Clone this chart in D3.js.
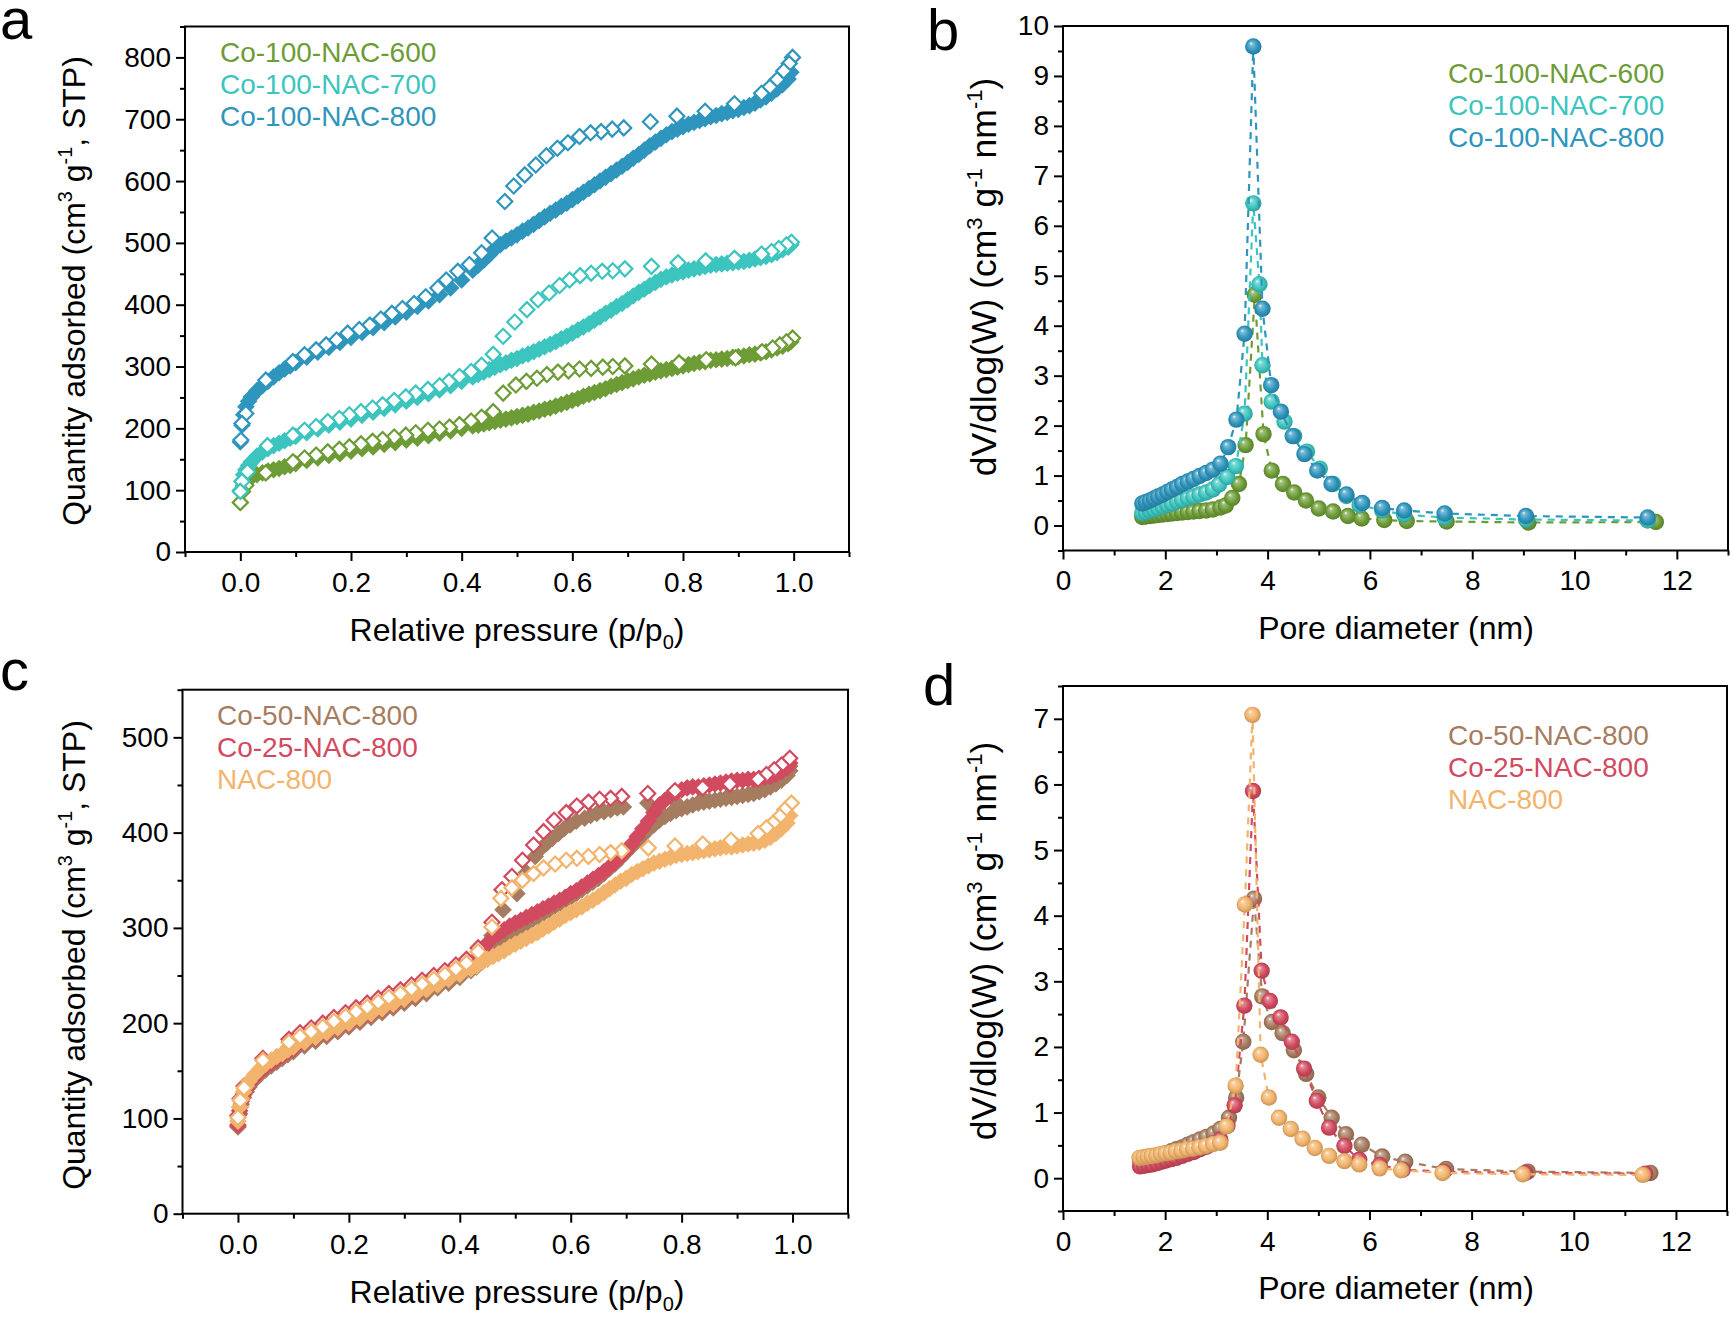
<!DOCTYPE html>
<html>
<head>
<meta charset="utf-8">
<script src="https://cdn.jsdelivr.net/npm/d3@7.9.0/dist/d3.min.js"></script>
<style>
  body { margin: 0; background: #fff; }
  text { font-family: "Liberation Sans", Arial, Helvetica, sans-serif; }
</style>
</head>
<body>
<svg id="fig" width="1730" height="1320"></svg>
<script>
// ---------- data ----------
// relative pressure grid shared by the adsorption branches (panels a and c)
const adsPressure = [0, 0.003, 0.006, 0.01, 0.015, 0.02, 0.03, 0.04, 0.05, 0.06, 0.07, 0.08, 0.09,
  0.10, 0.12, 0.14, 0.16, 0.18, 0.20, 0.22, 0.24, 0.26, 0.28, 0.30, 0.32, 0.34, 0.36, 0.38, 0.40, 0.42,
  0.43, 0.44, 0.45, 0.46, 0.47, 0.48, 0.49, 0.50, 0.51, 0.52,
  0.53, 0.54, 0.55, 0.56, 0.57, 0.58, 0.59, 0.60, 0.61, 0.62,
  0.63, 0.64, 0.65, 0.66, 0.67, 0.68, 0.69, 0.70, 0.71, 0.72,
  0.73, 0.74, 0.75, 0.76, 0.77, 0.78, 0.79, 0.80, 0.81, 0.82,
  0.83, 0.84, 0.85, 0.86, 0.87, 0.88, 0.89, 0.90, 0.91, 0.92,
  0.93, 0.94, 0.95, 0.96, 0.97, 0.98, 0.99, 0.995];

// panel a, adsorption (filled diamonds)
const ads600 = [80, 98, 108, 114, 118, 121, 125, 128, 131, 133, 135, 138, 140,
  143, 148, 152, 156, 159, 163, 167, 170, 174, 177, 181, 184, 188, 192, 196, 200, 204,
  205, 207, 209, 211, 213, 215, 217, 219, 221, 223,
  226, 228, 231, 233, 236, 239, 242, 245, 248, 252,
  255, 258, 261, 264, 268, 271, 274, 277, 280, 283,
  286, 288, 291, 293, 295, 297, 299, 301, 303, 305,
  307, 308, 310, 311, 312, 313, 315, 316, 317, 319,
  320, 322, 324, 327, 330, 333, 337, 340];
const ads700 = [100, 115, 125, 133, 140, 146, 155, 162, 167, 172, 176, 180, 184,
  187, 193, 199, 205, 210, 215, 221, 226, 232, 238, 244, 250, 256, 262, 269, 276, 283,
  287, 291, 295, 299, 303, 306, 310, 313, 317, 320,
  324, 328, 332, 336, 340, 345, 349, 354, 359, 364,
  369, 375, 380, 386, 391, 397, 402, 408, 414, 420,
  425, 431, 436, 441, 445, 448, 451, 453, 456, 458,
  460, 462, 464, 465, 466, 467, 468, 469, 470, 472,
  474, 476, 478, 481, 484, 489, 493, 497];
const ads800 = [178, 205, 222, 235, 244, 251, 261, 269, 276, 283, 290, 296, 301,
  306, 315, 323, 331, 339, 347, 355, 363, 371, 380, 388, 397, 406, 416, 427, 440, 456,
  464, 472, 481, 490, 497, 503, 508, 513, 519, 524,
  530, 536, 542, 548, 553, 559, 564, 570, 576, 582,
  588, 594, 600, 606, 612, 618, 624, 630, 637, 643,
  650, 657, 663, 669, 675, 680, 684, 688, 692, 695,
  698, 701, 704, 706, 709, 711, 714, 716, 719, 722,
  726, 731, 736, 742, 749, 756, 765, 776];

// panel a, desorption (open diamonds) [p/p0, quantity]
const des600 = [[0.998, 346], [0.987, 340], [0.975, 335], [0.962, 330], [0.943, 324], [0.895, 314], [0.842, 311],
  [0.793, 306], [0.743, 304], [0.695, 301], [0.673, 300], [0.655, 299], [0.634, 297], [0.613, 296], [0.593, 293],
  [0.574, 291], [0.554, 287], [0.536, 281], [0.517, 276], [0.498, 270], [0.475, 257], [0.457, 227], [0.436, 218],
  [0.417, 212], [0.396, 206], [0.378, 202], [0.36, 199], [0.339, 197], [0.317, 193], [0.299, 189], [0.278, 186],
  [0.257, 182], [0.239, 179], [0.218, 175], [0.197, 170], [0.179, 166], [0.158, 162], [0.137, 157], [0.116, 152],
  [0.095, 146], [0.046, 128], [0.01, 108], [0.004, 98], [0.0, 80]];
const des700 = [[0.996, 501], [0.987, 497], [0.973, 491], [0.96, 486], [0.942, 482], [0.893, 475], [0.841, 471],
  [0.791, 468], [0.743, 462], [0.695, 458], [0.673, 455], [0.654, 454], [0.634, 451], [0.614, 447], [0.595, 440],
  [0.577, 431], [0.558, 419], [0.538, 408], [0.518, 392], [0.496, 372], [0.475, 349], [0.457, 320], [0.436, 302],
  [0.417, 292], [0.396, 284], [0.377, 276], [0.36, 269], [0.339, 263], [0.317, 257], [0.299, 251], [0.278, 245],
  [0.257, 238], [0.239, 233], [0.218, 227], [0.197, 222], [0.179, 216], [0.158, 211], [0.137, 203], [0.116, 197],
  [0.095, 189], [0.049, 172], [0.013, 130], [0.003, 114], [0.0, 98]];
const des800 = [[0.998, 800], [0.992, 790], [0.982, 778], [0.97, 764], [0.957, 752], [0.942, 742], [0.893, 725],
  [0.84, 713], [0.789, 705], [0.741, 696], [0.693, 686], [0.672, 684], [0.652, 680], [0.633, 678], [0.613, 672],
  [0.592, 662], [0.573, 653], [0.553, 641], [0.534, 626], [0.514, 610], [0.494, 592], [0.478, 567], [0.455, 508],
  [0.436, 484], [0.414, 465], [0.393, 454], [0.372, 440], [0.357, 427], [0.335, 413], [0.314, 402], [0.293, 394],
  [0.274, 386], [0.254, 377], [0.234, 367], [0.215, 360], [0.194, 354], [0.174, 343], [0.155, 335], [0.137, 327],
  [0.116, 319], [0.095, 308], [0.046, 278], [0.01, 224], [0.003, 208], [0.001, 181]];

// panel c, adsorption
const adsCo50 = [91, 105, 115, 122, 128, 133, 140, 146, 151, 155, 159, 163, 167,
  170, 176, 181, 186, 191, 196, 201, 206, 211, 216, 221, 226, 231, 237, 242, 248, 255,
  259, 264, 272, 280, 284, 287, 292, 296, 300, 304,
  308, 311, 315, 318, 322, 325, 329, 332, 336, 340,
  344, 348, 352, 357, 362, 367, 373, 379, 385, 391,
  397, 403, 408, 413, 417, 420, 423, 425, 427, 429,
  431, 432, 433, 434, 435, 436, 437, 438, 439, 440,
  441, 443, 445, 448, 451, 455, 460, 465];
const adsCo25 = [93, 108, 118, 125, 131, 136, 143, 149, 154, 158, 162, 166, 170,
  173, 179, 184, 189, 194, 199, 204, 209, 214, 219, 224, 229, 235, 240, 246, 253, 262,
  268, 276, 284, 290, 294, 298, 302, 305, 308, 311,
  314, 317, 320, 323, 326, 329, 332, 336, 339, 343,
  347, 351, 355, 359, 364, 369, 375, 381, 388, 396,
  404, 412, 421, 429, 434, 439, 442, 445, 447, 448,
  448, 449, 450, 451, 452, 453, 454, 455, 455, 456,
  456, 457, 458, 459, 461, 464, 468, 473];
const adsNac = [97, 112, 121, 128, 134, 139, 146, 152, 157, 161, 165, 168, 172,
  175, 180, 185, 190, 195, 200, 205, 210, 215, 220, 225, 230, 235, 240, 246, 251, 257,
  260, 264, 267, 270, 273, 276, 280, 283, 286, 289,
  292, 295, 299, 302, 306, 309, 313, 316, 319, 322,
  326, 329, 333, 337, 341, 345, 349, 352, 356, 359,
  362, 365, 368, 370, 372, 374, 376, 377, 378, 379,
  380, 381, 382, 383, 384, 385, 385, 386, 387, 388,
  389, 390, 392, 395, 399, 404, 410, 418];

// panel c, desorption
const desCo50 = [[0.995, 470], [0.98, 462], [0.965, 455], [0.95, 450], [0.938, 447], [0.887, 440], [0.838, 436],
  [0.788, 433], [0.739, 431], [0.695, 427], [0.684, 426], [0.672, 424], [0.66, 422], [0.647, 420], [0.636, 418],
  [0.625, 415], [0.61, 412], [0.599, 408], [0.588, 404], [0.578, 399], [0.567, 394], [0.557, 389], [0.546, 383],
  [0.536, 375], [0.52, 358], [0.503, 336], [0.478, 319], [0.458, 292], [0.433, 268], [0.412, 258],
  [0.393, 252], [0.373, 246], [0.353, 241], [0.332, 236], [0.313, 231], [0.293, 226], [0.272, 222], [0.253, 217],
  [0.233, 212], [0.213, 207], [0.194, 202], [0.173, 197], [0.153, 192], [0.132, 187], [0.112, 181], [0.092, 175],
  [0.045, 155], [0.011, 126], [0.004, 112], [0.0, 92]];
const desCo25 = [[0.995, 478], [0.98, 471], [0.967, 466], [0.953, 461], [0.938, 456], [0.887, 451], [0.838, 447],
  [0.788, 444], [0.739, 441], [0.692, 438], [0.672, 436], [0.652, 435], [0.632, 432], [0.611, 428], [0.592, 421],
  [0.57, 413], [0.551, 401], [0.533, 387], [0.513, 371], [0.494, 354], [0.476, 340], [0.458, 306], [0.433, 279],
  [0.412, 267], [0.393, 261], [0.373, 255], [0.353, 250], [0.332, 245], [0.313, 240], [0.293, 235], [0.272, 231],
  [0.253, 226], [0.233, 221], [0.213, 216], [0.194, 211], [0.173, 206], [0.153, 200], [0.132, 195], [0.112, 190],
  [0.092, 183], [0.045, 163], [0.011, 134], [0.004, 121], [0.0, 103]];
const desNac = [[0.998, 431], [0.986, 424], [0.977, 417], [0.965, 410], [0.953, 405], [0.938, 399], [0.889, 392],
  [0.838, 388], [0.788, 386], [0.74, 384], [0.692, 381], [0.672, 379], [0.652, 377], [0.632, 375], [0.611, 373],
  [0.592, 371], [0.572, 367], [0.551, 363], [0.533, 357], [0.513, 350], [0.494, 342], [0.474, 331], [0.458, 301],
  [0.433, 275], [0.412, 263], [0.393, 257], [0.373, 251], [0.353, 246], [0.332, 241], [0.313, 236], [0.293, 231],
  [0.272, 227], [0.253, 222], [0.233, 217], [0.213, 212], [0.194, 207], [0.173, 202], [0.153, 196], [0.132, 191],
  [0.112, 186], [0.092, 180], [0.045, 161], [0.011, 132], [0.004, 119], [0.0, 101]];

// panel b, pore size distribution [pore diameter nm, dV/dlog(W)]
const psd600 = [[1.55, 0.17], [1.62, 0.18], [1.70, 0.19], [1.78, 0.20], [1.86, 0.21], [1.95, 0.22], [2.04, 0.23],
  [2.13, 0.24], [2.23, 0.25], [2.33, 0.26], [2.44, 0.27], [2.55, 0.28], [2.67, 0.29], [2.80, 0.30], [2.93, 0.32],
  [3.08, 0.36], [3.18, 0.40], [3.31, 0.55], [3.44, 0.83], [3.57, 1.61], [3.75, 4.62], [3.92, 1.83], [4.08, 1.10],
  [4.30, 0.83], [4.52, 0.66], [4.75, 0.50], [5.00, 0.34], [5.28, 0.28], [5.57, 0.19], [5.84, 0.14], [6.28, 0.11],
  [6.72, 0.09], [7.50, 0.08], [9.10, 0.06], [11.59, 0.07]];
const psd700 = [[1.55, 0.25], [1.62, 0.27], [1.70, 0.30], [1.78, 0.32], [1.86, 0.35], [1.95, 0.38], [2.04, 0.41],
  [2.13, 0.44], [2.23, 0.48], [2.33, 0.51], [2.44, 0.55], [2.55, 0.58], [2.67, 0.62], [2.80, 0.66], [2.93, 0.72],
  [3.05, 0.82], [3.21, 0.97], [3.38, 1.19], [3.55, 2.24], [3.72, 6.45], [3.84, 4.83], [3.90, 3.21], [4.08, 2.48],
  [4.33, 2.08], [4.52, 1.79], [4.77, 1.48], [5.02, 1.14], [5.28, 0.83], [5.54, 0.59], [5.80, 0.41], [6.24, 0.30],
  [6.67, 0.22], [7.46, 0.16], [9.05, 0.12], [11.43, 0.10]];
const psd800 = [[1.55, 0.44], [1.62, 0.47], [1.70, 0.50], [1.78, 0.54], [1.86, 0.58], [1.95, 0.62], [2.04, 0.67],
  [2.13, 0.72], [2.23, 0.77], [2.33, 0.83], [2.44, 0.88], [2.55, 0.93], [2.67, 0.99], [2.80, 1.05], [2.93, 1.12],
  [3.08, 1.24], [3.23, 1.57], [3.39, 2.12], [3.55, 3.84], [3.72, 9.59], [3.90, 4.34], [4.07, 2.81], [4.26, 2.28],
  [4.49, 1.79], [4.72, 1.43], [4.97, 1.10], [5.25, 0.83], [5.54, 0.62], [5.85, 0.45], [6.24, 0.35], [6.67, 0.30],
  [7.46, 0.24], [9.05, 0.19], [11.43, 0.16]];

// panel d, pore size distribution
const psdCo50 = [[1.51, 0.26], [1.59, 0.27], [1.67, 0.29], [1.75, 0.31], [1.84, 0.33], [1.93, 0.35], [2.02, 0.38],
  [2.12, 0.41], [2.22, 0.44], [2.33, 0.47], [2.44, 0.51], [2.56, 0.55], [2.68, 0.59], [2.81, 0.63], [2.95, 0.68],
  [3.08, 0.75], [3.25, 0.92], [3.39, 1.23], [3.53, 2.08], [3.74, 4.26], [3.90, 2.77], [4.09, 2.38], [4.30, 2.21],
  [4.52, 1.95], [4.76, 1.59], [5.00, 1.23], [5.26, 0.92], [5.54, 0.67], [5.85, 0.51], [6.25, 0.33], [6.70, 0.25],
  [7.50, 0.14], [9.10, 0.10], [11.50, 0.08]];
const psdCo25 = [[1.51, 0.18], [1.59, 0.19], [1.67, 0.20], [1.75, 0.21], [1.84, 0.23], [1.93, 0.25], [2.02, 0.27],
  [2.12, 0.29], [2.22, 0.31], [2.33, 0.34], [2.44, 0.37], [2.56, 0.40], [2.68, 0.44], [2.81, 0.48], [2.95, 0.53],
  [3.08, 0.59], [3.22, 0.80], [3.36, 1.11], [3.55, 2.63], [3.72, 5.90], [3.89, 3.16], [4.05, 2.70], [4.26, 2.45],
  [4.48, 2.08], [4.72, 1.67], [4.97, 1.18], [5.21, 0.77], [5.51, 0.49], [5.80, 0.28], [6.20, 0.20], [6.65, 0.13],
  [7.45, 0.10], [9.05, 0.08], [11.40, 0.07]];
const psdNac = [[1.50, 0.31], [1.58, 0.32], [1.66, 0.33], [1.74, 0.34], [1.83, 0.35], [1.92, 0.37], [2.01, 0.38],
  [2.11, 0.39], [2.21, 0.41], [2.32, 0.42], [2.43, 0.44], [2.55, 0.45], [2.67, 0.47], [2.80, 0.49], [2.94, 0.52],
  [3.08, 0.54], [3.20, 0.79], [3.38, 1.41], [3.56, 4.17], [3.71, 7.06], [3.87, 1.88], [4.03, 1.23], [4.23, 0.92],
  [4.46, 0.75], [4.69, 0.60], [4.93, 0.46], [5.21, 0.34], [5.51, 0.26], [5.80, 0.21], [6.20, 0.15], [6.62, 0.12],
  [7.43, 0.08], [9.00, 0.06], [11.35, 0.05]];

// legends and ticks
const namesTop = ['Co-100-NAC-600', 'Co-100-NAC-700', 'Co-100-NAC-800'];
const namesBottom = ['Co-50-NAC-800', 'Co-25-NAC-800', 'NAC-800'];
const colorsTop = ['#6d9c36', '#3cc5be', '#2e95bd'];
const colorsBottom = ['#a67c60', '#d24a5f', '#f2b46c'];

const pressureTicks = [0, 0.2, 0.4, 0.6, 0.8, 1.0];
const pressureMinor = [-0.1, 0.1, 0.3, 0.5, 0.7, 0.9, 1.1];
const poreTicks = [0, 2, 4, 6, 8, 10, 12];
const poreMinor = [1, 3, 5, 7, 9, 11, 13];

// ---------- drawing ----------
const svg = d3.select('#fig');
const defs = svg.append('defs');

function sphereGradient(id, c) {
  const g = defs.append('radialGradient').attr('id', id)
    .attr('cx', '50%').attr('cy', '50%').attr('r', '55%')
    .attr('fx', '35%').attr('fy', '30%');
  const light = d3.interpolateRgb(c, '#ffffff');
  g.append('stop').attr('offset', '0%').attr('stop-color', light(0.92));
  g.append('stop').attr('offset', '20%').attr('stop-color', light(0.35));
  g.append('stop').attr('offset', '62%').attr('stop-color', c);
  g.append('stop').attr('offset', '100%').attr('stop-color', d3.color(c).darker(0.7));
}

function frame(g, x, y) {
  const [xa, xb] = x.range(), [ya, yb] = y.range();
  g.append('rect')
    .attr('x', xa).attr('y', yb).attr('width', xb - xa).attr('height', ya - yb)
    .attr('fill', 'none').attr('stroke', '#000').attr('stroke-width', 2);
}

function axes(g, x, y, xt, xm, yt, ym, xfmt) {
  const [ya] = y.range(), [xa] = x.range();
  const bx = g.append('g').attr('transform', `translate(0,${ya})`)
    .call(d3.axisBottom(x).tickValues(xt).tickSize(9).tickPadding(11).tickFormat(xfmt));
  const bxm = g.append('g').attr('transform', `translate(0,${ya})`)
    .call(d3.axisBottom(x).tickValues(xm).tickSize(5).tickFormat(''));
  const ly = g.append('g').attr('transform', `translate(${xa},0)`)
    .call(d3.axisLeft(y).tickValues(yt).tickSize(9).tickPadding(5).tickFormat(d3.format('d')));
  const lym = g.append('g').attr('transform', `translate(${xa},0)`)
    .call(d3.axisLeft(y).tickValues(ym).tickSize(5).tickFormat(''));
  [bx, bxm, ly, lym].forEach(a => {
    a.select('.domain').remove();
    a.selectAll('line').attr('stroke', '#000').attr('stroke-width', 2);
    a.selectAll('text').attr('font-size', 28).attr('fill', '#000')
      .style('font-family', '"Liberation Sans", Arial, sans-serif');
  });
}

function xTitle(g, cx, by, main, sub, tail) {
  const t = g.append('text').attr('x', cx).attr('y', by)
    .attr('text-anchor', 'middle').attr('font-size', 32);
  t.append('tspan').text(main);
  if (sub) {
    t.append('tspan').attr('font-size', 20).attr('dy', 8).text(sub);
    t.append('tspan').attr('dy', -8).text(tail);
  }
}

// parts: [text, isSuperscript]
function yTitle(g, bx, cy, size, parts) {
  const t = g.append('text')
    .attr('transform', `translate(${bx},${cy}) rotate(-90)`)
    .attr('text-anchor', 'middle').attr('font-size', size);
  const lift = Math.round(size * 0.4);
  let up = 0;
  parts.forEach(([s, sup]) => {
    const dy = sup ? -lift - up : -up;
    up = sup ? -lift : 0;
    t.append('tspan').attr('dy', dy).attr('font-size', sup ? size * 0.62 : size).text(s);
  });
}

function legend(g, x0, baselines, names, colors) {
  names.forEach((n, i) => {
    g.append('text').attr('x', x0).attr('y', baselines[i])
      .attr('font-size', 28).attr('fill', colors[i]).text(n);
  });
}

function letter(g, x, y, s) {
  g.append('text').attr('x', x).attr('y', y).attr('font-size', 58).text(s);
}

const diamondFilled = d3.symbol().type(d3.symbolSquare).size(155)();
const diamondOpen = d3.symbol().type(d3.symbolSquare).size(112)();

function isotherm(g, x, y, ads, des, color, desFilled) {
  g.append('g').selectAll('path')
    .data(d3.zip(adsPressure, ads))
    .join('path')
    .attr('d', diamondFilled)
    .attr('transform', d => `translate(${x(d[0])},${y(d[1])}) rotate(45)`)
    .attr('fill', color);
  g.append('g').selectAll('path')
    .data(des)
    .join('path')
    .attr('d', desFilled ? diamondFilled : diamondOpen)
    .attr('transform', d => `translate(${x(d[0])},${y(d[1])}) rotate(45)`)
    .attr('fill', desFilled ? color : '#fff')
    .attr('stroke', desFilled ? 'none' : color)
    .attr('stroke-width', 2.2);
}

function poreSeries(g, x, y, pts, color, gid) {
  const line = d3.line().x(d => x(d[0])).y(d => y(d[1]));
  g.append('path').datum(pts).attr('d', line)
    .attr('fill', 'none').attr('stroke', color)
    .attr('stroke-width', 2.2).attr('stroke-dasharray', '7,6');
  g.append('g').selectAll('circle')
    .data(pts)
    .join('circle')
    .attr('cx', d => x(d[0])).attr('cy', d => y(d[1]))
    .attr('r', 8.2)
    .attr('fill', `url(#${gid})`);
}

colorsTop.forEach((c, i) => sphereGradient('gt' + i, c));
colorsBottom.forEach((c, i) => sphereGradient('gb' + i, c));

const isoTitle = [['Quantity adsorbed (cm', 0], ['3', 1], [' g', 0], ['-1', 1], [', STP)', 0]];
const psdTitle = [['dV/dlog(W) (cm', 0], ['3', 1], [' g', 0], ['-1', 1], [' nm', 0], ['-1', 1], [')', 0]];

// ----- panel a -----
{
  const g = svg.append('g');
  const x = d3.scaleLinear().domain([-0.1, 1.1]).range([185, 849]);
  const y = d3.scaleLinear().domain([0, 850]).range([552, 26.5]);
  isotherm(g, x, y, ads600, des600, colorsTop[0], false);
  isotherm(g, x, y, ads700, des700, colorsTop[1], false);
  isotherm(g, x, y, ads800, des800, colorsTop[2], false);
  frame(g, x, y);
  axes(g, x, y, pressureTicks, pressureMinor, d3.range(0, 801, 100), d3.range(50, 851, 100), d3.format('.1f'));
  xTitle(g, 517, 641, 'Relative pressure (p/p', '0', ')');
  yTitle(g, 85, 291, 32, isoTitle);
  legend(g, 220, [62, 94, 126], namesTop, colorsTop);
  letter(g, 0, 39, 'a');
}

// ----- panel b -----
{
  const g = svg.append('g');
  const x = d3.scaleLinear().domain([0, 13]).range([1063, 1728]);
  const y = d3.scaleLinear().domain([-0.5, 10]).range([550.5, 26]);
  poreSeries(g, x, y, psd600, colorsTop[0], 'gt0');
  poreSeries(g, x, y, psd700, colorsTop[1], 'gt1');
  poreSeries(g, x, y, psd800, colorsTop[2], 'gt2');
  frame(g, x, y);
  axes(g, x, y, poreTicks, poreMinor, d3.range(0, 11, 1), d3.range(-0.5, 10, 1), d3.format('d'));
  xTitle(g, 1396, 639, 'Pore diameter (nm)');
  yTitle(g, 996, 277, 35.5, psdTitle);
  legend(g, 1448, [83, 115, 147], namesTop, colorsTop);
  letter(g, 927, 50, 'b');
}

// ----- panel c -----
{
  const g = svg.append('g');
  const x = d3.scaleLinear().domain([-0.1, 1.1]).range([182.5, 848]);
  const y = d3.scaleLinear().domain([0, 550]).range([1213.7, 689.7]);
  isotherm(g, x, y, adsCo50, desCo50, colorsBottom[0], true);
  isotherm(g, x, y, adsCo25, desCo25, colorsBottom[1], false);
  isotherm(g, x, y, adsNac, desNac, colorsBottom[2], false);
  frame(g, x, y);
  axes(g, x, y, pressureTicks, pressureMinor, d3.range(0, 501, 100), d3.range(50, 551, 100), d3.format('.1f'));
  xTitle(g, 517, 1303, 'Relative pressure (p/p', '0', ')');
  yTitle(g, 85, 955, 32, isoTitle);
  legend(g, 217, [725, 757, 789], namesBottom, colorsBottom);
  letter(g, 0, 690, 'c');
}

// ----- panel d -----
{
  const g = svg.append('g');
  const x = d3.scaleLinear().domain([0, 13]).range([1063, 1727]);
  const y = d3.scaleLinear().domain([-0.5, 7.5]).range([1211, 686]);
  poreSeries(g, x, y, psdCo50, colorsBottom[0], 'gb0');
  poreSeries(g, x, y, psdCo25, colorsBottom[1], 'gb1');
  poreSeries(g, x, y, psdNac, colorsBottom[2], 'gb2');
  frame(g, x, y);
  axes(g, x, y, poreTicks, poreMinor, d3.range(0, 8, 1), d3.range(-0.5, 7.6, 1), d3.format('d'));
  xTitle(g, 1396, 1299, 'Pore diameter (nm)');
  yTitle(g, 996, 941, 35.5, psdTitle);
  legend(g, 1448, [745, 777, 809], namesBottom, colorsBottom);
  letter(g, 923, 705, 'd');
}
</script>
</body>
</html>
